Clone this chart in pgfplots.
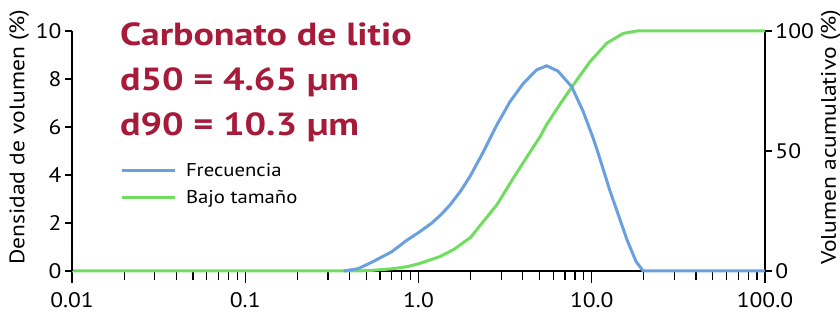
\documentclass[border=0pt]{standalone}
\usepackage{fontspec}
\setmainfont{PT Sans}[FakeStretch=1.12]
\newfontfamily\titlefont{PT Sans}[FakeStretch=1.19]
\usepackage{pgfplots}
\pgfplotsset{compat=1.18}
\definecolor{cblue}{RGB}{106,160,222}
\definecolor{cgreen}{RGB}{112,221,96}
\definecolor{ctitle}{RGB}{166,27,58}
\begin{document}
\begin{tikzpicture}
\pgfplotsset{every axis/.append style={scale only axis, width=693pt, height=240pt,
  xmode=log, xmin=0.01, xmax=100, clip=false,
  axis line style={line width=1.3pt,black}, tick style={line width=1.2pt,black},
  tick align=outside, /pgf/number format/assume math mode=true,
  tick label style={font=\fontsize{21}{24}\selectfont},
  label style={font=\fontsize{21}{24}\selectfont}}}
% x axis
\begin{axis}[ymin=0, ymax=10, axis x line*=bottom, axis y line=none,
  xtick={0.01,0.1,1,10,100}, xticklabels={0.01,0.1,1.0,10.0,100.0},
  minor xtick={0.02,0.03,0.04,0.05,0.06,0.07,0.08,0.09,0.2,0.3,0.4,0.5,0.6,0.7,0.8,0.9,2,3,4,5,6,7,8,9,20,30,40,50,60,70,80,90},
  major tick length=12pt, minor tick length=9pt,
  xticklabel style={yshift=-6pt}]
\end{axis}
% right axis, cumulative
\begin{axis}[ymin=0, ymax=100, axis x line=none, axis y line*=right,
  ytick={0,50,100}, major tick length=7pt,
  ylabel={Volumen acumulativo (\%)},
  ylabel style={at={(ticklabel cs:0.558)}}]
\addplot[cgreen, line width=3pt] table {
x y
0.01 0
0.45 0
0.546 0.3
0.7 0.9
0.86 1.8
1.0 3.0
1.33 6.0
1.6 9.0
2.0 14
2.27 19
2.83 27.5
3.52 38.6
4.4 49.5
5.04 56
5.49 61
6.56 69.5
7.82 77.5
9.77 87.2
12.2 94.9
15.2 99
18.2 100
100 100
};
\end{axis}
% left axis, density
\begin{axis}[ymin=0, ymax=10, axis x line=none, axis y line*=left,
  ytick={0,2,4,6,8,10}, major tick length=7pt,
  ylabel={Densidad de volumen (\%)},
  ylabel style={at={(ticklabel cs:0.558)}},
  legend style={at={(axis description cs:0.069,0.362)}, anchor=west, draw=none, fill=none,
    font=\fontsize{18.5}{20}\selectfont, inner sep=0pt, column sep=8pt, row sep=8pt},
  legend cell align=left,
  legend image code/.code={\draw[#1] (0pt,0pt) -- (53pt,0pt);}]
\addplot[cblue, line width=3pt] table {
x y
0.37 0
0.45 0.1
0.546 0.39
0.7 0.8
0.86 1.29
1.0 1.6
1.19 1.99
1.35 2.35
1.52 2.75
1.75 3.33
1.98 3.93
2.37 4.97
2.83 6.08
3.37 7.05
4.03 7.82
4.81 8.38
5.49 8.55
6.38 8.33
7.66 7.68
8.93 6.64
10.2 5.53
10.9 4.90
12.7 3.37
16.0 1.29
18.0 0.4
19.8 0
100 0
};
\addlegendentry{Frecuencia}
\addlegendimage{cgreen, line width=3pt}
\addlegendentry{Bajo tamaño}
\node[anchor=north west, align=left, inner sep=0pt, text=ctitle,
  font=\titlefont\fontsize{32}{45}\selectfont\bfseries] at (rel axis cs:0.069,1.037)
  {Carbonato de litio\\d50 = 4.65 µm\\d90 = 10.3 µm};
\end{axis}
\pgfresetboundingbox
\path (-72pt,-44pt) rectangle (768pt,271pt);
\end{tikzpicture}
\end{document}
